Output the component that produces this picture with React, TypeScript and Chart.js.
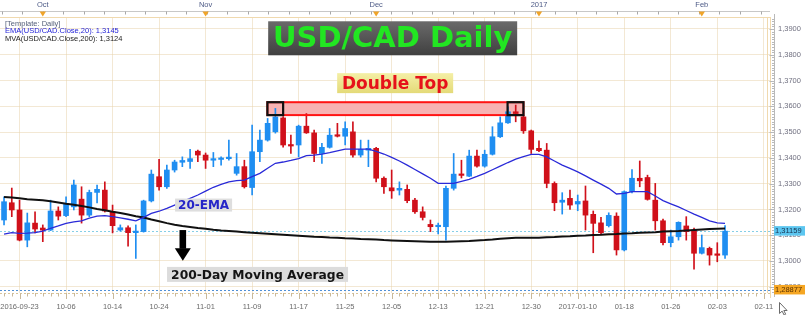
import { useEffect, useRef } from 'react';
import { Chart, registerables } from 'chart.js';

Chart.register(...registerables);

// ---- Candles (USD/CAD daily), index 0 = first visible candle ----
const openP = [
  1.3159, 1.3226, 1.3198, 1.3081, 1.3147, 1.3128, 1.3120, 1.3194, 1.3176, 1.3210,
  1.3240, 1.3178, 1.3266, 1.3275, 1.3191, 1.3120, 1.3129, 1.3110, 1.3114, 1.3233,
  1.3327, 1.3288, 1.3353, 1.3383, 1.3386, 1.3426, 1.3411, 1.3391, 1.3394, 1.3397,
  1.3340, 1.3366, 1.3285, 1.3424, 1.3469, 1.3501, 1.3555, 1.3450, 1.3450, 1.3523,
  1.3497, 1.3417, 1.3441, 1.3488, 1.3484, 1.3501, 1.3411, 1.3430, 1.3437, 1.3321,
  1.3284, 1.3275, 1.3278, 1.3236, 1.3191, 1.3142, 1.3133, 1.3133, 1.3282, 1.3337,
  1.3329, 1.3407, 1.3368, 1.3414, 1.3482, 1.3536, 1.3579, 1.3559, 1.3505, 1.3437,
  1.3430, 1.3301, 1.3228, 1.3243, 1.3221, 1.3233, 1.3181, 1.3148, 1.3137, 1.3174,
  1.3043, 1.3269, 1.3321, 1.3324, 1.3236, 1.3156, 1.3071, 1.3094, 1.3136, 1.3120,
  1.3030, 1.3049, 1.3027, 1.3023,
];
const highP = [
  1.3249, 1.3283, 1.3236, 1.3186, 1.3191, 1.3140, 1.3236, 1.3210, 1.3249, 1.3314,
  1.3288, 1.3275, 1.3295, 1.3307, 1.3217, 1.3140, 1.3136, 1.3140, 1.3236, 1.3353,
  1.3394, 1.3372, 1.3391, 1.3404, 1.3433, 1.3430, 1.3419, 1.3421, 1.3404, 1.3469,
  1.3417, 1.3391, 1.3527, 1.3508, 1.3553, 1.3592, 1.3560, 1.3488, 1.3527, 1.3572,
  1.3508, 1.3456, 1.3514, 1.3534, 1.3540, 1.3540, 1.3469, 1.3469, 1.3441, 1.3327,
  1.3353, 1.3307, 1.3295, 1.3243, 1.3210, 1.3159, 1.3147, 1.3291, 1.3417, 1.3391,
  1.3430, 1.3430, 1.3430, 1.3521, 1.3559, 1.3598, 1.3605, 1.3566, 1.3508, 1.3466,
  1.3456, 1.3307, 1.3265, 1.3275, 1.3256, 1.3291, 1.3194, 1.3169, 1.3187, 1.3187,
  1.3272, 1.3355, 1.3388, 1.3333, 1.3301, 1.3163, 1.3120, 1.3152, 1.3172, 1.3128,
  1.3101, 1.3054, 1.3071, 1.3137,
];
const lowP = [
  1.3140, 1.3172, 1.3078, 1.3055, 1.3109, 1.3075, 1.3118, 1.3159, 1.3172, 1.3198,
  1.3147, 1.3172, 1.3225, 1.3190, 1.3109, 1.3116, 1.3058, 1.3010, 1.3112, 1.3229,
  1.3275, 1.3282, 1.3345, 1.3366, 1.3359, 1.3385, 1.3359, 1.3366, 1.3372, 1.3391,
  1.3333, 1.3283, 1.3256, 1.3385, 1.3465, 1.3496, 1.3442, 1.3417, 1.3404, 1.3495,
  1.3385, 1.3379, 1.3438, 1.3481, 1.3450, 1.3403, 1.3403, 1.3366, 1.3307, 1.3262,
  1.3243, 1.3256, 1.3226, 1.3185, 1.3159, 1.3114, 1.3105, 1.3081, 1.3275, 1.3322,
  1.3327, 1.3364, 1.3364, 1.3411, 1.3479, 1.3534, 1.3540, 1.3495, 1.3417, 1.3424,
  1.3284, 1.3195, 1.3182, 1.3200, 1.3195, 1.3120, 1.3032, 1.3105, 1.3132, 1.3023,
  1.3039, 1.3264, 1.3288, 1.3236, 1.3120, 1.3062, 1.3055, 1.3081, 1.3081, 1.2968,
  1.3027, 1.2984, 1.2997, 1.3010,
];
const closeP = [
  1.3230, 1.3198, 1.3081, 1.3148, 1.3124, 1.3120, 1.3194, 1.3174, 1.3221, 1.3295,
  1.3178, 1.3266, 1.3278, 1.3194, 1.3137, 1.3129, 1.3110, 1.3116, 1.3233, 1.3337,
  1.3288, 1.3353, 1.3384, 1.3390, 1.3397, 1.3411, 1.3391, 1.3397, 1.3399, 1.3403,
  1.3366, 1.3288, 1.3424, 1.3469, 1.3534, 1.3559, 1.3450, 1.3446, 1.3523, 1.3497,
  1.3417, 1.3441, 1.3488, 1.3484, 1.3514, 1.3411, 1.3433, 1.3437, 1.3321, 1.3288,
  1.3272, 1.3282, 1.3234, 1.3191, 1.3169, 1.3133, 1.3137, 1.3282, 1.3337, 1.3332,
  1.3407, 1.3368, 1.3414, 1.3482, 1.3536, 1.3579, 1.3572, 1.3505, 1.3433, 1.3428,
  1.3301, 1.3226, 1.3236, 1.3217, 1.3231, 1.3178, 1.3146, 1.3110, 1.3177, 1.3043,
  1.3269, 1.3321, 1.3311, 1.3239, 1.3156, 1.3071, 1.3094, 1.3150, 1.3114, 1.3030,
  1.3052, 1.3023, 1.3022, 1.31159,
];
// EMA(20) and MA(200), one value per candle
const ema20 = [
  1.3104, 1.3110, 1.3107, 1.3108, 1.3110, 1.3116, 1.3127, 1.3136, 1.3146, 1.3152,
  1.3156, 1.3166, 1.3174, 1.3176, 1.3172, 1.3167, 1.3162, 1.3156, 1.3169, 1.3185,
  1.3193, 1.3204, 1.3217, 1.3230, 1.3243, 1.3256, 1.3271, 1.3286, 1.3297, 1.3307,
  1.3312, 1.3314, 1.3327, 1.3340, 1.3360, 1.3379, 1.3384, 1.3390, 1.3397, 1.3409,
  1.3411, 1.3415, 1.3420, 1.3427, 1.3434, 1.3434, 1.3434, 1.3434, 1.3425, 1.3415,
  1.3402, 1.3388, 1.3372, 1.3355, 1.3338, 1.3321, 1.3301, 1.3301, 1.3301, 1.3309,
  1.3317, 1.3328, 1.3340, 1.3354, 1.3368, 1.3382, 1.3395, 1.3405, 1.3414, 1.3414,
  1.3404, 1.3388, 1.3372, 1.3359, 1.3346, 1.3330, 1.3314, 1.3298, 1.3282, 1.3260,
  1.3262, 1.3269, 1.3269, 1.3269, 1.3252, 1.3234, 1.3222, 1.3210, 1.3196, 1.3182,
  1.3169, 1.3156, 1.3148, 1.3146,
];
const sma200 = [
  1.3248, 1.3246, 1.3243, 1.3240, 1.3238, 1.3236, 1.3232, 1.3227, 1.3222, 1.3218,
  1.3213, 1.3208, 1.3202, 1.3197, 1.3191, 1.3186, 1.3180, 1.3174, 1.3169, 1.3161,
  1.3154, 1.3147, 1.3141, 1.3136, 1.3132, 1.3128, 1.3125, 1.3121, 1.3118, 1.3116,
  1.3114, 1.3112, 1.3110, 1.3108, 1.3106, 1.3104, 1.3102, 1.3100, 1.3098, 1.3096,
  1.3094, 1.3093, 1.3091, 1.3090, 1.3088, 1.3087, 1.3085, 1.3084, 1.3083, 1.3081,
  1.3080, 1.3079, 1.3078, 1.3077, 1.3076, 1.3075, 1.3075, 1.3075, 1.3076, 1.3077,
  1.3078, 1.3080, 1.3081, 1.3083, 1.3086, 1.3088, 1.3090, 1.3090, 1.3090, 1.3090,
  1.3092, 1.3093, 1.3095, 1.3096, 1.3098, 1.3099, 1.3101, 1.3102, 1.3104, 1.3105,
  1.3107, 1.3108, 1.3110, 1.3111, 1.3112, 1.3114, 1.3115, 1.3116, 1.3118, 1.3120,
  1.3122, 1.3124, 1.3125, 1.3126,
];

// ---- Axis ticks ----
const bottomTickIndex = [2, 8, 14, 20, 26, 32, 38, 44, 50, 56, 62, 68, 74, 80, 86, 92, 98];
const bottomTickLabels = [
  '2016-09-23', '10-06', '10-14', '10-24', '11-01', '11-09', '11-17', '11-25', '12-05',
  '12-13', '12-21', '12-30', '2017-01-10', '01-18', '01-26', '02-03', '02-11',
];
const monthTickIndex = [5, 26, 48, 69, 90];
const monthTickLabels = ['Oct', 'Nov', 'Dec', '2017', 'Feb'];
const priceTicks = [1.29, 1.30, 1.31, 1.32, 1.33, 1.34, 1.35, 1.36, 1.37, 1.38, 1.39];

// ---- Levels and annotations ----
const lastClose = 1.31159;
const lowLevel = 1.28877;
const emaLast = '1,3145';
const smaLast = '1,3124';
const doubleTopRange = [33.97, 67.0];
const doubleTopPrices = [1.3566, 1.3616];
const peakBoxLeft = [33.97, 36.0];
const peakBoxRight = [64.95, 67.0];

const X_MIN = -0.52;
const X_MAX = 98.8;
const Y_MIN = 1.287586;
const Y_MAX = 1.394655;

const UP = '#1f8ef1';
const DOWN = '#d0101a';
const GRID = 'rgba(232, 210, 170, 0.5)';
const AXIS_FONT = { family: 'Liberation Sans, Arial, sans-serif', size: 7.5 };

const fmtPrice = (v: number) => v.toFixed(4).replace('.', ',');

const noPad = (s: any, h: number) => {
  s.height = h;
  s.paddingLeft = 0;
  s.paddingRight = 0;
};

const overlay = {
  id: 'overlay',
  beforeDraw(chart: any) {
    const { ctx, width, height } = chart;
    ctx.save();
    ctx.fillStyle = '#ffffff';
    ctx.fillRect(0, 0, width, height);
    ctx.restore();
  },
  beforeDatasetsDraw(chart: any) {
    const { ctx, chartArea } = chart;
    const xs = chart.scales.x;
    const ys = chart.scales.y;
    ctx.save();
    ctx.lineWidth = 1;
    ctx.setLineDash([2, 2]);
    let yy = Math.round(ys.getPixelForValue(lastClose)) + 0.5;
    ctx.strokeStyle = '#86cfe6';
    ctx.beginPath();
    ctx.moveTo(chartArea.left, yy);
    ctx.lineTo(chartArea.right, yy);
    ctx.stroke();
    yy = Math.round(ys.getPixelForValue(lowLevel)) + 0.5;
    ctx.strokeStyle = '#4f8fd6';
    ctx.beginPath();
    ctx.moveTo(chartArea.left, yy);
    ctx.lineTo(chartArea.right, yy);
    ctx.stroke();
    ctx.setLineDash([]);
    const x1 = xs.getPixelForValue(doubleTopRange[0]);
    const x2 = xs.getPixelForValue(doubleTopRange[1]);
    const yt = ys.getPixelForValue(doubleTopPrices[1]);
    const yb = ys.getPixelForValue(doubleTopPrices[0]);
    ctx.fillStyle = '#f7b3b3';
    ctx.fillRect(x1, yt, x2 - x1, yb - yt);
    ctx.restore();
  },
  afterDatasetsDraw(chart: any) {
    const { ctx } = chart;
    const xs = chart.scales.x;
    const ys = chart.scales.y;
    const px = (v: number) => xs.getPixelForValue(v);
    const py = (v: number) => ys.getPixelForValue(v);
    ctx.save();
    const x1 = px(doubleTopRange[0]);
    const x2 = px(doubleTopRange[1]);
    const yt = py(doubleTopPrices[1]);
    const yb = py(doubleTopPrices[0]);
    ctx.strokeStyle = '#ff1414';
    ctx.lineWidth = 2;
    ctx.strokeRect(x1, yt, x2 - x1, yb - yt);
    ctx.strokeStyle = '#111';
    ctx.lineWidth = 2.2;
    for (const b of [peakBoxLeft, peakBoxRight]) {
      const a = px(b[0]);
      const c = px(b[1]);
      ctx.strokeRect(a, yt, c - a, yb - yt);
    }

    const label = (text: string, cx: number, cy: number, w: number, h: number, bg: any, color: string, size: number) => {
      ctx.fillStyle = bg;
      ctx.fillRect(cx - w / 2, cy - h / 2, w, h);
      ctx.fillStyle = color;
      ctx.font = `bold ${size}px "DejaVu Sans", Verdana, sans-serif`;
      ctx.textAlign = 'center';
      ctx.textBaseline = 'middle';
      ctx.fillText(text, cx, cy + 1);
    };

    {
      const cx = px(50.13);
      const cy = py(1.3864);
      const g = ctx.createLinearGradient(0, cy - 17, 0, cy + 17);
      g.addColorStop(0, '#6a6a6a');
      g.addColorStop(1, '#404040');
      label('USD/CAD Daily', cx, cy, 249, 34, g, '#22e622', 29);
    }
    {
      const cx = px(50.45);
      const cy = py(1.3690);
      const g = ctx.createLinearGradient(0, cy - 10, 0, cy + 10);
      g.addColorStop(0, '#f4efa6');
      g.addColorStop(1, '#e4da78');
      label('Double Top', cx, cy, 116, 20, g, '#e6121a', 17);
    }
    {
      const cx = px(25.74);
      const cy = py(1.3217);
      label('20-EMA', cx, cy, 57, 13, '#dedede', '#2525c8', 12);
    }
    {
      const cx = px(32.7);
      const cy = py(1.2948);
      label('200-Day Moving Average', cx, cy, 181, 15, '#dcdcdc', '#141414', 12.3);
    }
    {
      const ax = px(23.06);
      const yTop = py(1.3120);
      const yTip = py(1.3001);
      const headH = 12.5;
      ctx.fillStyle = '#000';
      ctx.fillRect(ax - 3.3, yTop, 6.6, yTip - yTop - headH + 0.5);
      ctx.beginPath();
      ctx.moveTo(ax - 8, yTip - headH);
      ctx.lineTo(ax + 8, yTip - headH);
      ctx.lineTo(ax, yTip);
      ctx.closePath();
      ctx.fill();
    }
    ctx.restore();
  },
  afterDraw(chart: any) {
    const { ctx, chartArea } = chart;
    const xs = chart.scales.x;
    const ys = chart.scales.y;
    ctx.save();
    ctx.lineWidth = 1;
    ctx.strokeStyle = '#f0d9ae';
    ctx.beginPath();
    ctx.moveTo(chartArea.left, chartArea.top + 0.5);
    ctx.lineTo(chartArea.right, chartArea.top + 0.5);
    ctx.moveTo(chartArea.right - 2.5, chartArea.top);
    ctx.lineTo(chartArea.right - 2.5, chartArea.bottom);
    ctx.moveTo(chartArea.right + 0.5, chartArea.top);
    ctx.lineTo(chartArea.right + 0.5, chartArea.bottom + 5);
    ctx.stroke();
    ctx.setLineDash([2, 2]);
    ctx.strokeStyle = '#d9c49a';
    ctx.beginPath();
    ctx.moveTo(chartArea.left, chartArea.bottom + 0.5);
    ctx.lineTo(chartArea.right, chartArea.bottom + 0.5);
    ctx.stroke();
    ctx.setLineDash([]);
    ctx.strokeStyle = '#c9b99a';
    ctx.beginPath();
    for (let i = 0; i <= 98; i++) {
      const x = Math.round(xs.getPixelForValue(i)) + 0.5;
      const major = bottomTickIndex.includes(i);
      ctx.moveTo(x, chartArea.bottom);
      ctx.lineTo(x, chartArea.bottom + (major ? 6 : 3.5));
    }
    ctx.stroke();
    ctx.strokeStyle = '#c8c8c8';
    ctx.beginPath();
    ctx.moveTo(chartArea.left, 11.5);
    ctx.lineTo(chartArea.right, 11.5);
    ctx.stroke();
    ctx.strokeStyle = '#a8a8a8';
    ctx.beginPath();
    for (let v = 5 - 2 * 2.645; v < X_MAX; v += 2.645) {
      const x = Math.round(xs.getPixelForValue(v)) + 0.5;
      ctx.moveTo(x, 11.5);
      ctx.lineTo(x, 14.5);
    }
    ctx.stroke();
    ctx.fillStyle = '#f0a428';
    for (const m of monthTickIndex) {
      const x = xs.getPixelForValue(m);
      ctx.beginPath();
      ctx.moveTo(x - 3.2, 11.5);
      ctx.lineTo(x + 3.2, 11.5);
      ctx.lineTo(x, 16.5);
      ctx.closePath();
      ctx.fill();
    }
    const rx = chartArea.right + 4.5;
    ctx.strokeStyle = '#b9b9b9';
    ctx.beginPath();
    ctx.moveTo(rx, 14);
    ctx.lineTo(rx, 297);
    for (let k = 1288; k <= 1394; k++) {
      const y = Math.round(ys.getPixelForValue(k / 1000)) + 0.5;
      const major = k % 10 === 0;
      ctx.moveTo(rx - (major ? 5 : 2.5), y);
      ctx.lineTo(rx, y);
    }
    ctx.stroke();
    ctx.font = '7.5px "Liberation Sans", Arial, sans-serif';
    ctx.textAlign = 'left';
    ctx.textBaseline = 'middle';
    const tag = (v: number, text: string, bg: string, fg: string) => {
      const y = ys.getPixelForValue(v);
      ctx.fillStyle = bg;
      ctx.fillRect(chartArea.right + 4, y - 5, 31, 9.5);
      ctx.fillStyle = fg;
      ctx.fillText(text, chartArea.right + 5, y);
    };
    tag(lastClose, '1,31159', '#5cc6f0', '#17324f');
    tag(lowLevel, '1,28877', '#f5a623', '#5a3200');
    ctx.font = '7.5px "Liberation Sans", Arial, sans-serif';
    ctx.textAlign = 'left';
    ctx.fillStyle = '#55607a';
    ctx.fillText('[Template: Daily]', 5, 23.5);
    ctx.fillStyle = '#2424d8';
    ctx.fillText('EMA(USD/CAD.Close,20): ' + emaLast, 5, 31);
    ctx.fillStyle = '#222';
    ctx.fillText('MVA(USD/CAD.Close,200): ' + smaLast, 5, 38.5);
    // mouse pointer seen in the screenshot
    {
      const tx = chartArea.right + 9.5;
      const ty = 302.5;
      ctx.beginPath();
      ctx.moveTo(tx, ty);
      ctx.lineTo(tx, ty + 11);
      ctx.lineTo(tx + 2.6, ty + 8.6);
      ctx.lineTo(tx + 4.6, ty + 12.5);
      ctx.lineTo(tx + 6.2, ty + 11.7);
      ctx.lineTo(tx + 4.3, ty + 8);
      ctx.lineTo(tx + 7.6, ty + 8);
      ctx.closePath();
      ctx.fillStyle = '#ffffff';
      ctx.fill();
      ctx.strokeStyle = '#6a6a6a';
      ctx.lineWidth = 1;
      ctx.stroke();
    }
    ctx.restore();
  },
};

export default function App() {
  const ref = useRef<HTMLCanvasElement | null>(null);

  useEffect(() => {
    if (!ref.current) return;
    const colors = openP.map((o, i) => (closeP[i] >= o ? UP : DOWN));
    const chart = new Chart(ref.current, {
      type: 'bar',
      data: {
        datasets: [
          {
            type: 'line',
            label: 'EMA20',
            data: ema20.map((v, i) => ({ x: i, y: v })),
            borderColor: '#2a2ad8',
            borderWidth: 1.3,
            pointRadius: 0,
            tension: 0,
            order: 0,
          },
          {
            type: 'line',
            label: 'MA200',
            data: sma200.map((v, i) => ({ x: i, y: v })),
            borderColor: '#111111',
            borderWidth: 2,
            pointRadius: 0,
            tension: 0,
            order: 0,
          },
          {
            type: 'bar',
            label: 'body',
            data: openP.map((o, i) => ({ x: i, y: [Math.min(o, closeP[i]), Math.max(o, closeP[i])] })),
            backgroundColor: colors,
            barThickness: 5,
            minBarLength: 1.5,
            grouped: false,
            order: 1,
          },
          {
            type: 'bar',
            label: 'wick',
            data: lowP.map((l, i) => ({ x: i, y: [l, highP[i]] })),
            backgroundColor: colors,
            barThickness: 1,
            grouped: false,
            order: 2,
          },
        ] as any,
      },
      options: {
        responsive: false,
        animation: false,
        devicePixelRatio: 1,
        events: [],
        layout: { padding: 0 },
        plugins: {
          legend: { display: false },
          tooltip: { enabled: false },
          title: { display: false },
        },
        scales: {
          x: {
            type: 'linear',
            position: 'bottom',
            min: X_MIN,
            max: X_MAX,
            offset: false,
            afterFit: (s: any) => noPad(s, 22),
            afterBuildTicks: (s: any) => {
              s.ticks = bottomTickIndex.map((v) => ({ value: v }));
            },
            ticks: {
              autoSkip: false,
              maxRotation: 0,
              padding: 9,
              font: AXIS_FONT,
              color: '#6a6a6a',
              callback: (v: any) => bottomTickLabels[bottomTickIndex.indexOf(Number(v))] ?? '',
            },
            grid: { color: GRID, drawTicks: false, offset: false },
            border: { display: false },
          },
          x2: {
            type: 'linear',
            position: 'top',
            min: X_MIN,
            max: X_MAX,
            offset: false,
            afterFit: (s: any) => noPad(s, 17),
            afterBuildTicks: (s: any) => {
              s.ticks = monthTickIndex.map((v) => ({ value: v }));
            },
            ticks: {
              autoSkip: false,
              maxRotation: 0,
              padding: 7.5,
              font: AXIS_FONT,
              color: '#4d5a86',
              callback: (v: any) => monthTickLabels[monthTickIndex.indexOf(Number(v))] ?? '',
            },
            grid: { display: false, drawTicks: false },
            border: { display: false },
          },
          y: {
            position: 'right',
            min: Y_MIN,
            max: Y_MAX,
            afterFit: (s: any) => {
              s.width = 40;
              s.paddingTop = 0;
              s.paddingBottom = 0;
            },
            afterBuildTicks: (s: any) => {
              s.ticks = priceTicks.map((v) => ({ value: v }));
            },
            ticks: {
              padding: 8,
              font: AXIS_FONT,
              color: '#707080',
              callback: (v: any) => fmtPrice(Number(v)),
            },
            grid: { color: GRID, drawTicks: false },
            border: { display: false },
          },
        },
      } as any,
      plugins: [overlay],
    });
    return () => chart.destroy();
  }, []);

  return (
    <div style={{ position: 'absolute', left: 0, top: 0, width: 810, height: 315 }}>
      <canvas ref={ref} width={810} height={315} style={{ display: 'block', width: 810, height: 315 }} />
    </div>
  );
}
